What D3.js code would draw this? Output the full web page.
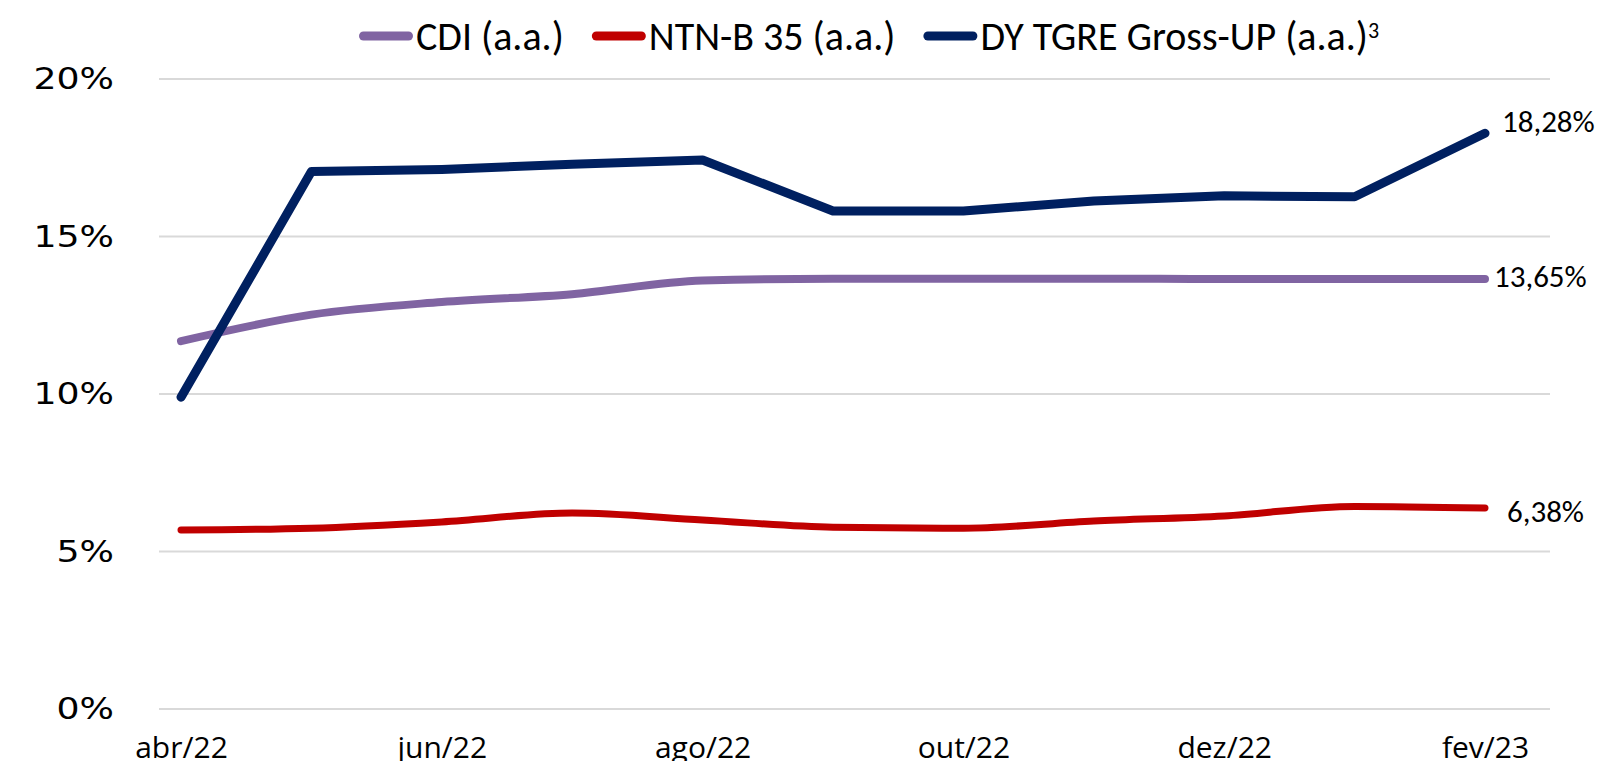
<!DOCTYPE html>
<html>
<head>
<meta charset="utf-8">
<script src="https://cdn.jsdelivr.net/npm/d3@7"></script>
<style>
  body { margin: 0; background: #fff; }
  svg { display: block; }
</style>
</head>
<body>
<svg id="chart"></svg>
<script>
var months = ["abr/22", "mai/22", "jun/22", "jul/22", "ago/22", "set/22", "out/22", "nov/22", "dez/22", "jan/23", "fev/23"];
var tickLabels = ["abr/22", "jun/22", "ago/22", "out/22", "dez/22", "fev/23"];
var yTicks = [0, 5, 10, 15, 20];

var cdi = [11.68, 12.52, 12.92, 13.17, 13.60, 13.66, 13.66, 13.66, 13.65, 13.65, 13.65];
var ntnb = [5.68, 5.74, 5.94, 6.22, 6.00, 5.77, 5.74, 5.97, 6.13, 6.43, 6.38];
var dy = [9.90, 17.06, 17.13, 17.29, 17.43, 15.81, 15.81, 16.13, 16.29, 16.26, 18.28];

var seriesNames = ["CDI (a.a.)", "NTN-B 35 (a.a.)", "DY TGRE Gross-UP (a.a.)"];
var seriesColors = ["#8064A2", "#C00000", "#002060"];
var endLabels = ["13,65%", "6,38%", "18,28%"];

var svgWidth = 1597, svgHeight = 761;
var labelFont = "Carlito, 'Liberation Sans Narrow', 'Open Sans', sans-serif";

var svg = d3.select("#chart")
    .attr("width", svgWidth)
    .attr("height", svgHeight);

var x = d3.scalePoint()
    .domain(months)
    .range([181, 1485]);

var y = d3.scaleLinear()
    .domain([0, 20])
    .range([709, 79]);

// gridlines
svg.append("g")
    .selectAll("line")
    .data(yTicks)
    .enter().append("line")
    .attr("x1", 159)
    .attr("x2", 1550)
    .attr("y1", function(d) { return y(d); })
    .attr("y2", function(d) { return y(d); })
    .attr("stroke", "#d9d9d9")
    .attr("stroke-width", 2);

// y axis
var yAxis = svg.append("g")
    .attr("transform", "translate(114,0)")
    .call(d3.axisLeft(y).tickValues(yTicks).tickSize(0).tickPadding(0)
        .tickFormat(function(d) { return d + "%"; }));
yAxis.select(".domain").remove();
yAxis.selectAll("text")
    .attr("transform", "scale(1.17,1)")
    .style("font-family", "'DejaVu Sans', sans-serif")
    .style("font-size", "31px")
    .attr("fill", "#000");

// x axis
var xAxis = svg.append("g")
    .attr("transform", "translate(0,737)")
    .call(d3.axisBottom(x).tickValues(tickLabels).tickSize(0).tickPadding(0));
xAxis.select(".domain").remove();
xAxis.selectAll("text")
    .style("font-family", "'Open Sans', sans-serif")
    .style("font-size", "30px")
    .attr("fill", "#000");

var data = [cdi, ntnb, dy];
var curves = [d3.curveMonotoneX, d3.curveMonotoneX, d3.curveLinear];
var widths = [8, 7, 9];
var labelDx = [9, 22, 17];
var labelDy = [-3, 3, -12];

// navy drawn last so it sits on top
[0, 1, 2].forEach(function(i) {
    var line = d3.line()
        .x(function(d, j) { return x(months[j]); })
        .y(function(d) { return y(d); })
        .curve(curves[i]);
    svg.append("path")
        .datum(data[i])
        .attr("fill", "none")
        .attr("stroke", seriesColors[i])
        .attr("stroke-width", widths[i])
        .attr("stroke-linejoin", "round")
        .attr("stroke-linecap", "round")
        .attr("d", line);

    var last = data[i][data[i].length - 1];
    svg.append("text")
        .attr("x", x(months[months.length - 1]) + labelDx[i])
        .attr("y", y(last) + labelDy[i])
        .attr("dy", "0.35em")
        .style("font-family", labelFont)
        .style("font-size", "31px")
        .attr("fill", "#000")
        .text(endLabels[i]);
});

// legend
var legend = svg.append("g").attr("transform", "translate(359,36)");
var lx = 0;
seriesNames.forEach(function(name, i) {
    legend.append("line")
        .attr("x1", lx + 4.5).attr("x2", lx + 49.5)
        .attr("y1", 0).attr("y2", 0)
        .attr("stroke", seriesColors[i])
        .attr("stroke-width", 9)
        .attr("stroke-linecap", "round");
    var t = legend.append("text")
        .attr("x", lx + 57)
        .attr("y", 0)
        .attr("dy", "0.35em")
        .style("font-family", labelFont)
        .style("font-size", "40px")
        .attr("fill", "#000")
        .text(name);
    if (i === 2) {
        t.append("tspan")
            .attr("dy", "-0.55em")
            .style("font-size", "22px")
            .text("3");
    }
    lx += 57 + t.node().getComputedTextLength() + 28;
});
</script>
</body>
</html>
